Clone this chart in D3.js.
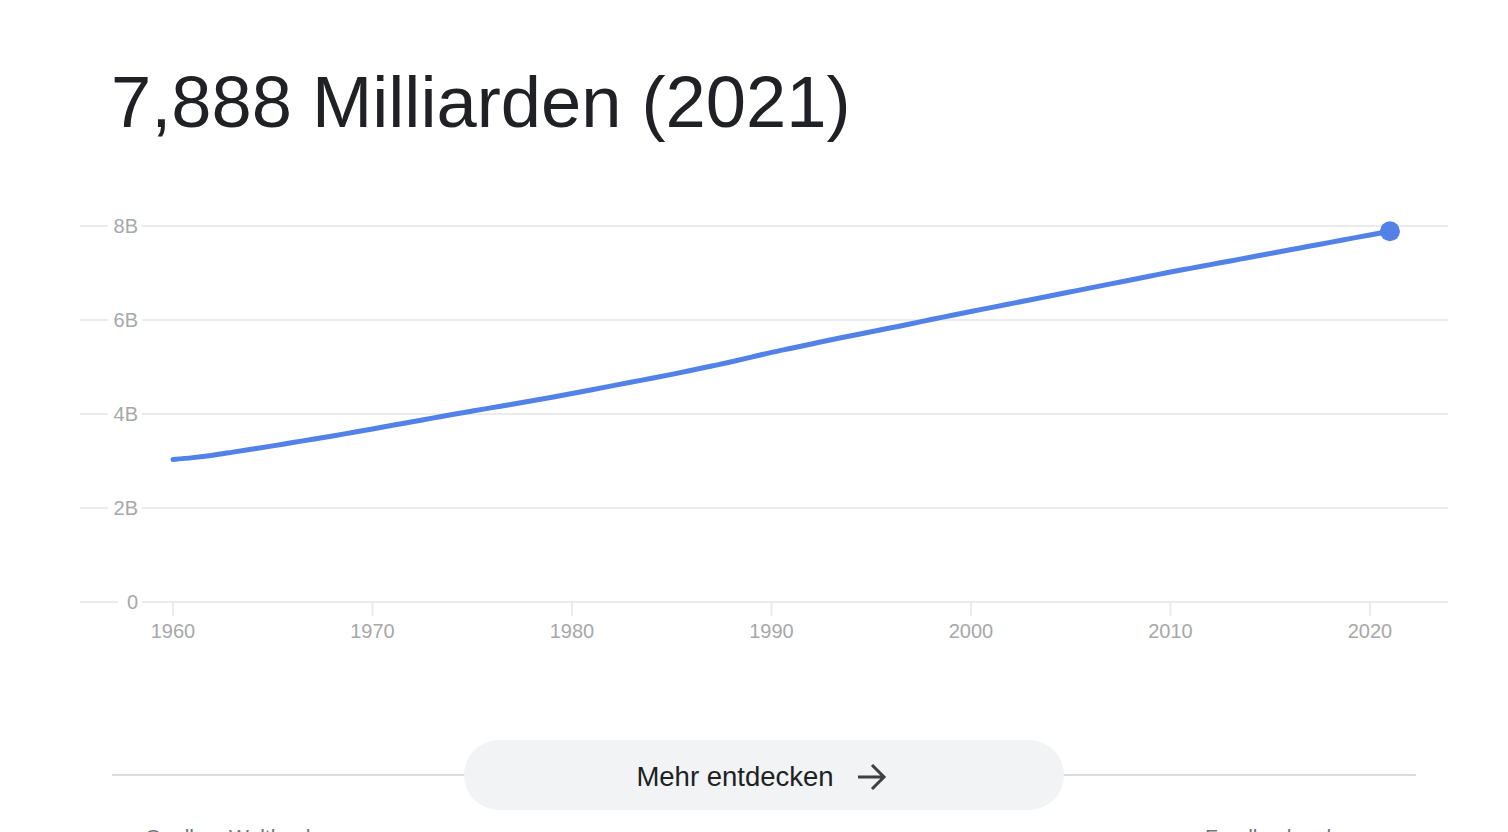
<!DOCTYPE html>
<html><head><meta charset="utf-8">
<script src="https://cdn.jsdelivr.net/npm/d3@7"></script>
<style>html,body{margin:0;padding:0;background:#fff;overflow:hidden}svg{display:block;font-family:"Liberation Sans",Arial,sans-serif}</style>
</head><body><svg id="c" width="1508" height="832"></svg>
<script>
const years = d3.range(1960, 2022);
const population = [3.032,3.072,3.124,3.189,3.255,3.322,3.392,3.461,3.532,3.607,
3.682,3.760,3.836,3.912,3.988,4.062,4.135,4.208,4.282,4.358,
4.436,4.516,4.598,4.680,4.761,4.844,4.930,5.020,5.112,5.210,
5.310,5.400,5.490,5.580,5.665,5.750,5.835,5.920,6.010,6.095,
6.180,6.264,6.348,6.432,6.516,6.600,6.684,6.768,6.852,6.936,
7.020,7.099,7.178,7.257,7.336,7.415,7.494,7.573,7.652,7.731,
7.810,7.888];
const yTicks = [0,2,4,6,8];
const yTickLabels = ["0","2B","4B","6B","8B"];
const xTicks = [1960,1970,1980,1990,2000,2010,2020];
const titleText = "7,888 Milliarden (2021)";
const buttonText = "Mehr entdecken";
const sourceText = "Quellen: Weltbank";
const feedbackText = "Feedback geben";

const svg = d3.select("#c");
const x = d3.scaleLinear().domain([1960,2020]).range([173,1370]);
const y = d3.scaleLinear().domain([0,8]).range([602,226]);

svg.append("text").attr("x",111).attr("y",127).attr("font-size",72.3).attr("fill","#202124").text(titleText);

// gridlines
const yAxis = svg.append("g");
yAxis.selectAll("line").data(yTicks).join("line")
  .attr("x1",80).attr("x2",1448).attr("y1",d=>y(d)).attr("y2",d=>y(d))
  .attr("stroke","#ebebeb").attr("stroke-width",2);
yAxis.selectAll("rect").data(yTicks).join("rect")
  .attr("x",d=>d===0?118:108).attr("width",d=>d===0?24:34).attr("y",d=>y(d)-12).attr("height",24).attr("fill","#fff");
yAxis.selectAll("text").data(yTicks).join("text")
  .attr("x",138).attr("y",d=>y(d)).attr("dy","0.35em").attr("text-anchor","end")
  .attr("font-size",20).attr("fill","#a8a8a8").text((d,i)=>yTickLabels[i]);

// x axis ticks
const xAxis = svg.append("g");
xAxis.selectAll("line").data(xTicks).join("line")
  .attr("x1",d=>x(d)).attr("x2",d=>x(d)).attr("y1",602).attr("y2",616)
  .attr("stroke","#ebebeb").attr("stroke-width",2);
xAxis.selectAll("text").data(xTicks).join("text")
  .attr("x",d=>x(d)).attr("y",638).attr("text-anchor","middle")
  .attr("font-size",20).attr("fill","#a8a8a8").text(d=>d);

// line
const line = d3.line().x((d,i)=>x(years[i])).y(d=>y(d)).curve(d3.curveMonotoneX);
svg.append("path").datum(population).attr("d",line).attr("fill","none")
  .attr("stroke","#5282e8").attr("stroke-width",5).attr("stroke-linecap","round");
svg.append("circle").attr("cx",x(years[years.length-1])).attr("cy",y(population[population.length-1]))
  .attr("r",10).attr("fill","#5282e8");

// footer
svg.append("line").attr("x1",112).attr("x2",1416).attr("y1",775).attr("y2",775).attr("stroke","#dadce0").attr("stroke-width",2);
svg.append("rect").attr("x",464).attr("y",740).attr("width",600).attr("height",70).attr("rx",35).attr("fill","#f1f3f4");
svg.append("text").attr("x",735).attr("y",786).attr("text-anchor","middle").attr("font-size",27.5).attr("fill","#202124").text(buttonText);
svg.append("path").attr("d","M858,777 H884 M872,765 L884,777 L872,789").attr("fill","none").attr("stroke","#3c4043").attr("stroke-width",3);
svg.append("text").attr("x",145).attr("y",844).attr("font-size",21).attr("fill","#70757a").text(sourceText);
svg.append("text").attr("x",1205).attr("y",844).attr("font-size",21).attr("fill","#70757a").text(feedbackText);
</script></body></html>
